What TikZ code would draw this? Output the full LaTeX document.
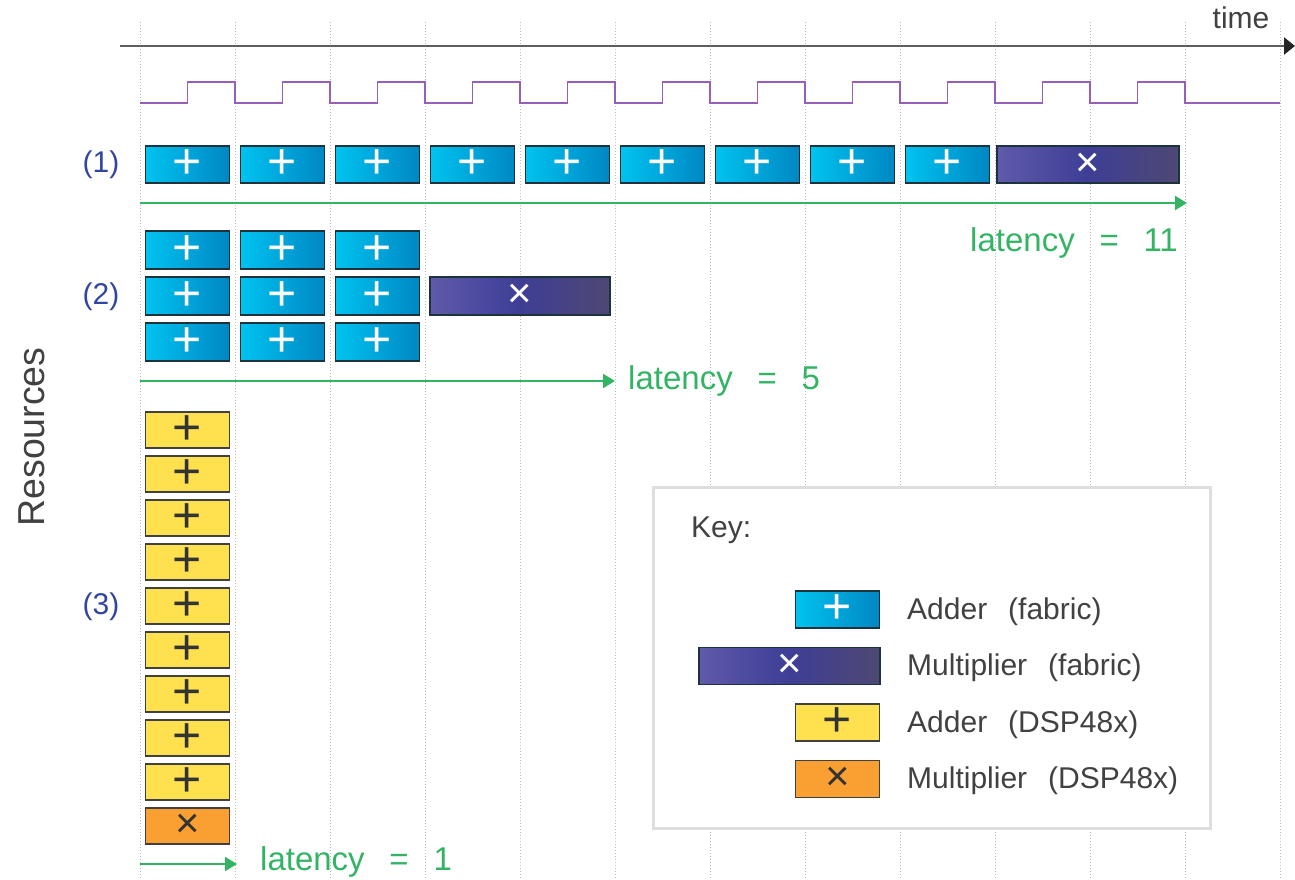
\documentclass[tikz,border=0pt]{standalone}
\usepackage{fontspec}
\setmainfont{Liberation Sans}
\usetikzlibrary{arrows.meta}
\definecolor{gridc}{RGB}{185,185,185}
\definecolor{axisc}{RGB}{95,95,95}
\definecolor{clk}{RGB}{150,95,185}
\definecolor{lat}{RGB}{50,180,100}
\definecolor{lbl}{RGB}{50,70,160}
\definecolor{txt}{RGB}{65,65,65}
\definecolor{cyanL}{RGB}{0,195,240}
\definecolor{cyanR}{RGB}{0,135,195}
\definecolor{edgeB}{RGB}{30,50,60}
\definecolor{mulL}{RGB}{95,90,170}
\definecolor{mulM}{RGB}{62,62,150}
\definecolor{mulR}{RGB}{78,72,115}
\definecolor{yel}{RGB}{255,225,80}
\definecolor{org}{RGB}{250,160,50}
\definecolor{keyedge}{RGB}{222,222,222}
\begin{document}
\begin{tikzpicture}[x=1pt,y=-1pt,
  box/.style={draw=edgeB, line width=1.6pt, minimum height=37pt, inner sep=0pt},
  plusfont/.style={font=\fontsize{50}{50}\selectfont},
  timesfont/.style={font=\fontsize{42}{42}\selectfont},
  addf/.style={box, minimum width=84pt, left color=cyanL, right color=cyanR, text=white, plusfont},
  mulf/.style={box, left color=mulL, right color=mulR, middle color=mulM, text=white, timesfont},
  addd/.style={box, draw=black!75, minimum width=84pt, minimum height=36pt, fill=yel, text=black!80, plusfont},
  muld/.style={addd, fill=org, timesfont},
  gridline/.style={gridc, dotted, line width=1pt},
  latarrow/.style={lat, line width=2pt, -{Triangle[length=12pt,width=14pt]}},
  lattext/.style={lat, font=\fontsize{33}{33}\selectfont, anchor=west, inner sep=0pt},
  rowlabel/.style={lbl, font=\fontsize{30}{30}\selectfont},
  keytext/.style={txt, font=\fontsize{30}{30}\selectfont, anchor=west, inner sep=0pt},
]
\useasboundingbox (0,0) rectangle (1295,879);
% grid
\foreach \k in {0,...,12} {
  \draw[gridline] (140+95*\k,22) -- (140+95*\k,879);
}
% time axis
\coordinate (tstart) at (120,46);
\coordinate (tend) at (1295,46);
\draw[axisc, line width=2.5pt, -{Triangle[length=11pt,width=17pt,color=black!85]}] (tstart) -- (tend);
\node[txt, font=\fontsize{30}{30}\selectfont] (time) at (1241,18) {time};
% clock
\draw[clk, line width=1.5pt] (140,103)
  \foreach \k in {0,...,10} { -- (187.5+95*\k,103) -- (187.5+95*\k,82) -- (235+95*\k,82) -- (235+95*\k,103) }
  -- (1280,103);
% row labels
\node[rowlabel] (l1) at (101,165) {(1)};
\node[rowlabel] (l2) at (101,297) {(2)};
\node[rowlabel] (l3) at (101,607) {(3)};
\node[txt, rotate=90, font=\fontsize{37.5}{37.5}\selectfont] (res) at (32,437) {Resources};
% row 1
\foreach \k in {0,...,8} {
  \node[addf] (a1-\k) at (187.5+95*\k,164.5) {+};
}
\node[mulf, minimum width=182pt] (m1) at (1088,164.5) {×};
\coordinate (a1s) at (140,203);
\coordinate (a1e) at (1187,203);
\draw[latarrow] (a1s) -- (a1e);
\node[lattext] (lat1) at (970,243) {latency\hspace{0.75em}=\hspace{0.75em}11};
% row 2
\foreach \r/\y in {0/250,1/296,2/342} {
  \foreach \k in {0,...,2} {
    \node[addf, minimum height=38pt] (a2-\r-\k) at (187.5+95*\k,\y) {+};
  }
}
\node[mulf, minimum width=180pt, minimum height=38pt] (m2) at (520,296) {×};
\coordinate (a2s) at (140,381);
\coordinate (a2e) at (615,381);
\draw[latarrow] (a2s) -- (a2e);
\node[lattext] (lat2) at (628,381) {latency\hspace{0.75em}=\hspace{0.75em}5};
% row 3
\foreach \k in {0,...,8} {
  \node[addd] (a3-\k) at (187.5,430+44*\k) {+};
}
\node[muld] (m3) at (187.5,826) {×};
\coordinate (a3s) at (140,864);
\coordinate (a3e) at (237,864);
\draw[latarrow] (a3s) -- (a3e);
\node[lattext] (lat3) at (260,862) {latency\hspace{0.75em}=\hspace{0.75em}1};
% key
\node[draw=keyedge, line width=3pt, fill=white, minimum width=557pt, minimum height=341pt] (key) at (931.5,657.5) {};
\node[txt, font=\fontsize{30}{30}\selectfont, anchor=west, inner sep=0pt] (keyt) at (691,530) {Key:};
\node[addf] (ka) at (837.5,609.5) {+};
\node[mulf, minimum width=181pt] (km) at (789.5,666) {×};
\node[addd, minimum height=37pt] (kd) at (837.5,722.5) {+};
\node[muld, minimum height=37pt] (ko) at (837.5,779) {×};
\node[keytext] (kat) at (907,612) {Adder\hspace{0.7em}(fabric)};
\node[keytext] (kmt) at (907,668) {Multiplier\hspace{0.7em}(fabric)};
\node[keytext] (kdt) at (907,725) {Adder\hspace{0.7em}(DSP48x)};
\node[keytext] (kot) at (907,781) {Multiplier\hspace{0.7em}(DSP48x)};
\end{tikzpicture}
\end{document}
